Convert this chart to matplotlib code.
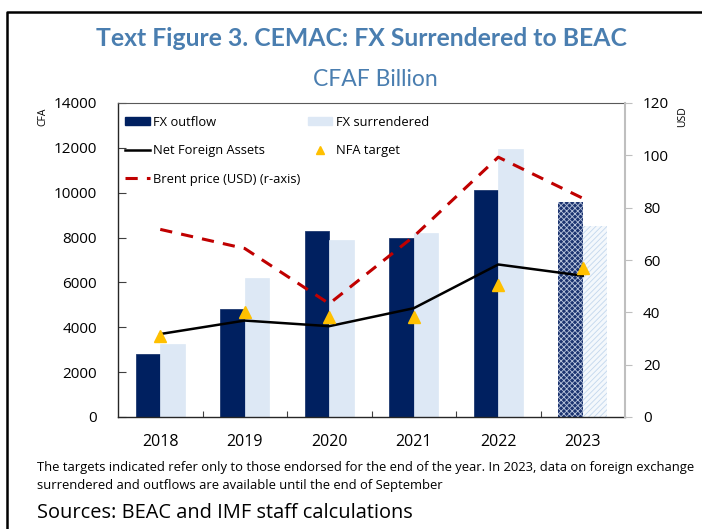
import matplotlib
matplotlib.use("Agg")
import matplotlib.pyplot as plt
import numpy as np
from matplotlib.lines import Line2D
from matplotlib.patches import Patch

years = ["2018", "2019", "2020", "2021", "2022", "2023"]
fx_outflow = [2800, 4800, 8300, 8000, 10100, 9600]
fx_surrendered = [3250, 6200, 7900, 8200, 11950, 8500]
nfa = [3700, 4300, 4050, 4850, 6800, 6300]
nfa_target = [3600, 4700, 4450, 4480, 5900, 6650]
brent = [71.7, 64.4, 43.3, 69.0, 99.3, 83.6]

left_ticks = [0, 2000, 4000, 6000, 8000, 10000, 12000, 14000]
right_ticks = [0, 20, 40, 60, 80, 100, 120]

NAVY = "#002060"
LIGHT = "#dde8f5"
RED = "#c00000"
GOLD = "#ffc000"
TITLE = "#4a7eb0"

plt.rcParams["font.family"] = ["Open Sans", "DejaVu Sans"]
plt.rcParams["hatch.linewidth"] = 0.6

fig = plt.figure(figsize=(7.02, 5.29), dpi=100)
W, H = 702, 529
ax = fig.add_axes([118 / W, 1 - 417 / H, (625 - 118) / W, (417 - 103) / H])
ax2 = ax.twinx()

x = np.arange(len(years))
bw = 0.29
for i in range(len(years)):
    if i < len(years) - 1:
        ax.bar(x[i] - bw / 2, fx_outflow[i], bw, color=NAVY, edgecolor="#1f3a70",
               linewidth=0.6, zorder=2)
        ax.bar(x[i] + bw / 2, fx_surrendered[i], bw, color=LIGHT, edgecolor=LIGHT,
               linewidth=0.5, zorder=2)
    else:
        ax.bar(x[i] - bw / 2, fx_outflow[i], bw, color="#1c3470", edgecolor="#b8c4dc",
               hatch="xxxxxx", linewidth=0, zorder=2)
        ax.bar(x[i] + bw / 2, fx_surrendered[i], bw, color="#f4f8fc", edgecolor="#c3d7ed",
               hatch="//////", linewidth=0, zorder=2)

ax.plot(x, nfa, color="black", lw=1.8, zorder=3)
ax.plot(x, nfa_target, linestyle="none", marker="^", markersize=8,
        color=GOLD, markeredgecolor=GOLD, zorder=4)
ax2.plot(x, brent, color=RED, lw=2.2, dashes=(4, 3), zorder=3)

ax.set_xlim(-0.5, len(years) - 0.5)
ax.set_ylim(0, 14000)
ax2.set_ylim(0, 120)
ax.set_yticks(left_ticks)
ax.set_yticklabels([str(v) for v in left_ticks], fontsize=11)
ax2.set_yticks(right_ticks)
ax2.set_yticklabels([str(v) for v in right_ticks], fontsize=11)
ax.set_xticks(x)
ax.set_xticklabels(years, fontsize=11.5)
ax.set_xticks(np.arange(0.5, len(years) - 1, 1), minor=True)
ax.tick_params(axis="x", which="major", length=0, pad=12)
ax.tick_params(axis="x", which="minor", direction="in", length=4, width=0.8, color="#404040")
ax.tick_params(axis="y", direction="in", length=6, width=0.8, color="#404040", pad=15)
ax2.tick_params(axis="y", direction="out", length=5, width=0.8, color="#bfbfbf", pad=8)

for s in ["left", "bottom"]:
    ax.spines[s].set_color("#262626")
    ax.spines[s].set_linewidth(1.0)
ax.spines["top"].set_color("#595959")
ax.spines["top"].set_linewidth(0.8)
ax.spines["right"].set_visible(False)
ax2.spines["right"].set_color("#bfbfbf")
ax2.spines["right"].set_linewidth(1.5)
ax2.spines["top"].set_visible(False)
ax2.spines["left"].set_visible(False)
ax2.spines["bottom"].set_visible(False)

handles = [
    Patch(facecolor=NAVY, edgecolor=NAVY),
    Line2D([0], [0], color="black", lw=1.8),
    Line2D([0], [0], color=RED, lw=2.2, dashes=(4, 3)),
    Patch(facecolor=LIGHT, edgecolor=LIGHT),
    Line2D([0], [0], linestyle="none", marker="^", markersize=6, color=GOLD),
]
labels = ["FX outflow", "Net Foreign Assets", "Brent price (USD) (r-axis)",
          "FX surrendered", "NFA target"]
leg = ax.legend(handles, labels, ncol=2, loc="upper left",
                bbox_to_anchor=(-0.004, 0.988), frameon=False, fontsize=9.3,
                handlelength=1.9, handleheight=0.6, handletextpad=0.25,
                labelspacing=1.2, columnspacing=0.6, borderaxespad=0.2,
                borderpad=0.5)
leg.set_zorder(10)

fig.text(361 / W, 1 - 38 / H, "Text Figure 3. CEMAC: FX Surrendered to BEAC",
         ha="center", va="center", fontsize=17.8, fontweight="bold", color=TITLE,
         family=["Lato", "DejaVu Sans"])
fig.text(375 / W, 1 - 80 / H, "CFAF Billion", ha="center", va="center",
         fontsize=16.5, color=TITLE, family=["Lato", "DejaVu Sans"])
fig.text(43 / W, 1 - 117 / H, "CFA", rotation=90, ha="center", va="center", fontsize=7.5)
fig.text(683 / W, 1 - 117 / H, "USD", rotation=90, ha="center", va="center", fontsize=7.5)

fig.text(37 / W, 1 - 467 / H,
         "The targets indicated refer only to those endorsed for the end of the year. "
         "In 2023, data on foreign exchange", ha="left", va="center", fontsize=9.4)
fig.text(37 / W, 1 - 486 / H, "surrendered and outflows are available until the end of September",
         ha="left", va="center", fontsize=9.4)
fig.text(37 / W, 1 - 513 / H, "Sources: BEAC and IMF staff calculations",
         ha="left", va="center", fontsize=14.4)

fig.add_artist(Line2D([7 / W, 7 / W, 1.0], [0.0, 1 - 12 / H, 1 - 12 / H],
                      transform=fig.transFigure, color="black", lw=1.8))

fig.savefig("out.png", dpi=100)
